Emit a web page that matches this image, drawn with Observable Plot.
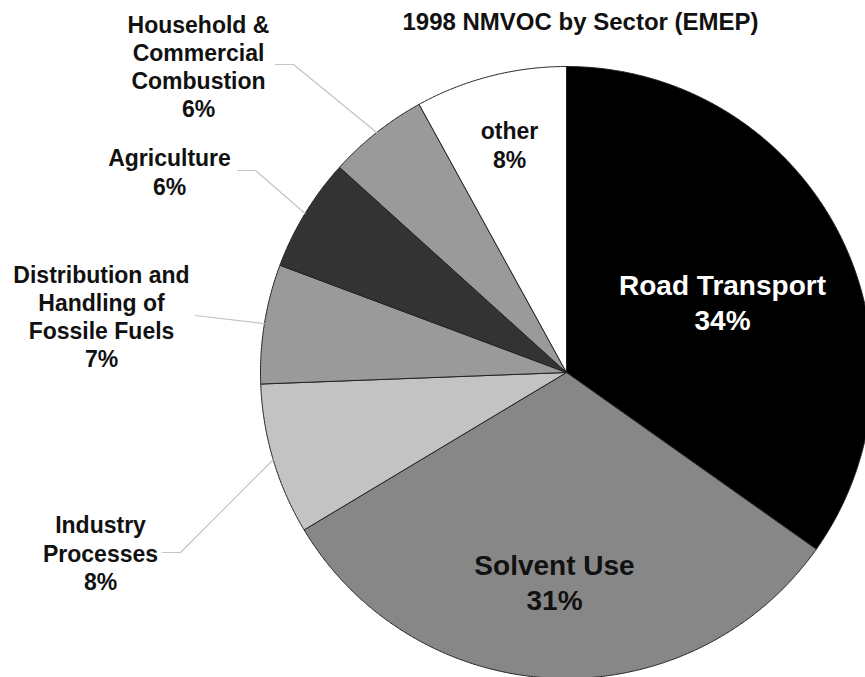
<!DOCTYPE html>
<html><head><meta charset="utf-8">
<script src="https://cdn.jsdelivr.net/npm/d3@7"></script>
<script src="https://cdn.jsdelivr.net/npm/@observablehq/plot@0.6"></script>
<style>
body{margin:0;background:#fff;overflow:hidden;}
</style></head><body>
<div id="chart"></div>
<script>
// ---- data ----
const sectors = ["Road Transport","Solvent Use","Industry Processes","Distribution and Handling of Fossile Fuels","Agriculture","Household & Commercial Combustion","other"];
const shares = [34.8, 31.6, 8.0, 6.3, 6.0, 5.3, 8.0];
const percentLabels = ["34%","31%","8%","7%","6%","6%","8%"];
const labelText = ["Road Transport","Solvent Use","Industry\nProcesses","Distribution and\nHandling of\nFossile Fuels","Agriculture","Household &\nCommercial\nCombustion","other"];
const title = "1998 NMVOC by Sector (EMEP)";

// ---- layout / style ----
const W = 865, H = 677, CX = 566, CY = 372, R = 306;
const fills = ["#000000","#878787","#c3c3c3","#9a9a9a","#333333","#9a9a9a","#ffffff"];
const labelLayout = [
  {px:722, py:300.5, size:28, color:"#ffffff", lh:1.25, leader:null},
  {px:554, py:580.5, size:28, color:"#111111", lh:1.25, leader:null},
  {px:100, py:552,   size:23, color:"#111111", lh:1.23, leader:[[162,552],[180,552]]},
  {px:101, py:315.5, size:23, color:"#111111", lh:1.23, leader:[[195,315]]},
  {px:169, py:171,   size:23, color:"#111111", lh:1.23, leader:[[237,170],[255,170]]},
  {px:198, py:65.5,  size:23, color:"#111111", lh:1.23, leader:[[275,64],[293,64]]},
  {px:509, py:144,   size:23, color:"#111111", lh:1.23, leader:null}
];
const ux = px => (px - CX) / R, uy = py => (CY - py) / R;

const arcs = d3.pie().sort(null).value(d => d)(shares);
const marks = [];
arcs.forEach((a, i) => {
  const pts = [{x:0, y:0}];
  const n = Math.max(8, Math.ceil((a.endAngle - a.startAngle) / 0.005));
  for (let k = 0; k <= n; k++) {
    const t = a.startAngle + (a.endAngle - a.startAngle) * k / n;
    pts.push({x: Math.sin(t), y: Math.cos(t)});
  }
  pts.push({x:0, y:0});
  marks.push(Plot.line(pts, {x:"x", y:"y", fill: fills[i], stroke:"#222", strokeWidth:1, curve:"linear", strokeLinejoin:"round"}));
});

// leader lines
arcs.forEach((a, i) => {
  const L = labelLayout[i].leader;
  if (!L) return;
  const mid = (a.startAngle + a.endAngle) / 2;
  const pts = L.map(([px, py]) => ({x: ux(px), y: uy(py)}));
  pts.push({x: Math.sin(mid), y: Math.cos(mid)});
  marks.push(Plot.line(pts, {x:"x", y:"y", stroke:"#c4c4c4", strokeWidth:1.2}));
});

const labels = sectors.map((s, i) => ({
  text: labelText[i] + "\n" + percentLabels[i],
  x: ux(labelLayout[i].px), y: uy(labelLayout[i].py),
  size: labelLayout[i].size, color: labelLayout[i].color, lh: labelLayout[i].lh
}));
labels.forEach(l => {
  marks.push(Plot.text([l], {x:"x", y:"y", text:"text", fontSize:l.size, fontWeight:"bold", fill:l.color, lineAnchor:"middle", textAnchor:"middle", lineHeight:l.lh}));
});
marks.push(Plot.text([{t:title, x:ux(580), y:uy(22)}], {x:"x", y:"y", text:"t", fontSize:24, fontWeight:"bold", fill:"#111", lineAnchor:"middle", textAnchor:"middle"}));

const chart = Plot.plot({
  width: W, height: H, margin: 0,
  x: {domain: [ux(0), ux(W)], axis: null},
  y: {domain: [uy(H), uy(0)], axis: null},
  style: {fontFamily: "'Liberation Sans', Arial, sans-serif", background: "#fff", overflow: "hidden"},
  marks
});
document.getElementById("chart").appendChild(chart);
</script>
</body></html>
